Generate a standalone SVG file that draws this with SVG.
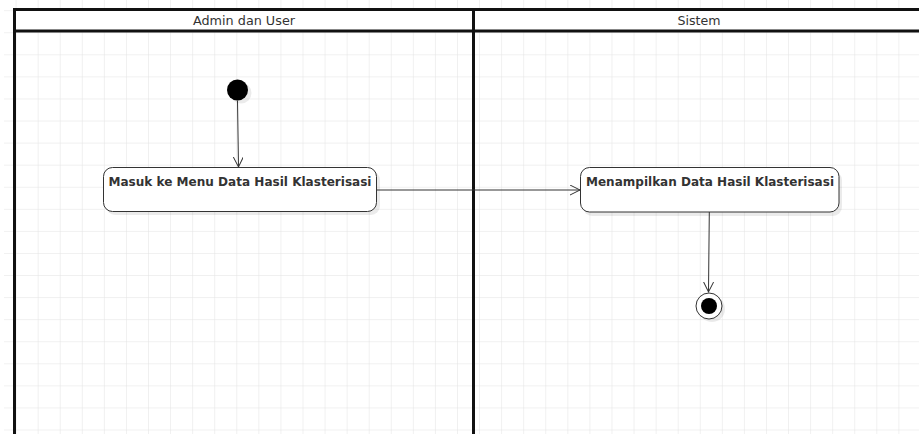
<svg xmlns="http://www.w3.org/2000/svg" width="919" height="434" viewBox="0 0 919 434">
<style>
.hdr{font-family:"DejaVu Sans",Verdana,sans-serif;font-size:12px;fill:#333;text-anchor:middle}
.lbl{font-family:"DejaVu Sans",Verdana,sans-serif;font-size:12px;font-weight:bold;fill:#333;text-anchor:middle}
.act{fill:#fff;stroke:#333;stroke-width:1}
.shd{fill:#000;opacity:0.08}
.edge{stroke:#333;stroke-width:1;fill:none}
.lane{fill:none;stroke:#111;stroke-width:3}
</style>
<defs>
<pattern id="grid" x="15.6" y="10.2" width="22.07" height="22.07" patternUnits="userSpaceOnUse">
<path d="M0 0H22.07M0 0V22.07" fill="none" stroke="#e2e2e2" stroke-width="1"/>
</pattern>
<marker id="open" markerWidth="12" markerHeight="12" refX="10" refY="5" orient="auto" markerUnits="userSpaceOnUse">
<path d="M0 0L10 5L0 10" fill="none" stroke="#333" stroke-width="1"/>
</marker>
</defs>
<rect width="919" height="434" fill="#fff"/>
<rect x="4" y="0" width="915" height="434" fill="url(#grid)"/>
<g id="pool">
<rect x="14" y="9" width="910" height="22" fill="#fff"/>
<path class="lane" d="M14.5 440V9.5H924M14.5 31H924M473.5 9.5V440"/>
</g>
<g id="lane-admin"><text class="hdr" x="244" y="24.5" textLength="102" lengthAdjust="spacingAndGlyphs">Admin dan User</text></g>
<g id="lane-sistem"><text class="hdr" x="699" y="24.5" textLength="43" lengthAdjust="spacingAndGlyphs">Sistem</text></g>
<g id="start">
<circle class="shd" cx="241" cy="93" r="10.5"/>
<circle cx="237.5" cy="90" r="10.5" fill="#000"/>
</g>
<g id="act1">
<rect class="shd" x="106" y="171" width="274" height="44" rx="9"/>
<rect class="act" x="103.5" y="167.5" width="273" height="44" rx="9"/>
<text class="lbl" x="240" y="186" textLength="263" lengthAdjust="spacingAndGlyphs">Masuk ke Menu Data Hasil Klasterisasi</text>
</g>
<g id="act2">
<rect class="shd" x="583" y="171" width="259" height="45" rx="9"/>
<rect class="act" x="580.5" y="167.5" width="258.5" height="44.5" rx="9"/>
<text class="lbl" x="710" y="186" textLength="248" lengthAdjust="spacingAndGlyphs">Menampilkan Data Hasil Klasterisasi</text>
</g>
<g id="end">
<circle class="shd" cx="712" cy="309" r="13"/>
<circle cx="709" cy="306" r="13" fill="#fff" stroke="#333" stroke-width="1"/>
<circle cx="709" cy="306" r="8" fill="#000"/>
</g>
<g id="connectors">
<path class="edge" d="M237.5 100.5L238.5 167" marker-end="url(#open)"/>
<path class="edge" d="M376.5 190H580" marker-end="url(#open)"/>
<path class="edge" d="M709.3 212L708.5 292" marker-end="url(#open)"/>
</g>
</svg>
